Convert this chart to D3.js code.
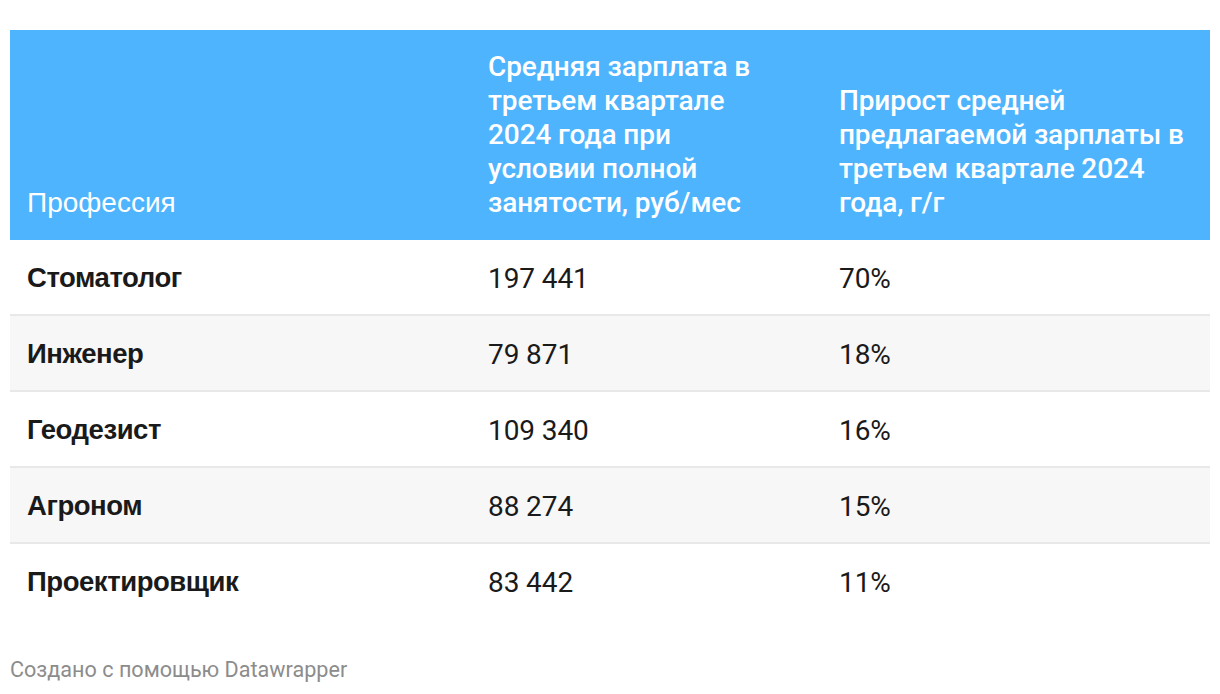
<!DOCTYPE html>
<html><head><meta charset="utf-8">
<script src="https://cdn.jsdelivr.net/npm/d3@7"></script>
<style>
html,body{margin:0;padding:0;background:#fff;}
svg{display:block;}
</style></head>
<body>
<svg id="chart" width="1220" height="694"></svg>
<script>
const professions = ["Стоматолог","Инженер","Геодезист","Агроном","Проектировщик"];
const salaries = [197441, 79871, 109340, 88274, 83442];
const growth = [70, 18, 16, 15, 11];
const headerCol1 = ["Профессия"];
const headerCol2 = ["Средняя зарплата в","третьем квартале","2024 года при","условии полной","занятости, руб/мес"];
const headerCol3 = ["Прирост средней","предлагаемой зарплаты в","третьем квартале 2024","года, г/г"];
const footer = "Создано с помощью Datawrapper";

const svg = d3.select("#chart");
const left = 10, right = 1210;
const headerTop = 30, headerBottom = 240, tableBottom = 620;

const cols = ["name","salary","growth"];
const xCol = d3.scaleOrdinal().domain(cols).range([27, 488, 839]);
const y = d3.scaleBand().domain(d3.range(professions.length)).range([headerBottom, tableBottom]);

svg.append("rect").attr("x", left).attr("y", headerTop).attr("width", right-left).attr("height", headerBottom-headerTop).attr("fill", "#4db4fd");

const lineH = 34;
const headerBase = 212;
const headers = [[ "name", headerCol1, "'Liberation Sans', Arial, sans-serif", 28, 400, "0px"],
                 [ "salary", headerCol2, "Roboto, sans-serif", 28, 500, "-0.1px"],
                 [ "growth", headerCol3, "Roboto, sans-serif", 28, 500, "-0.15px"]];
headers.forEach(([c, lines, font, fs, fw, ls]) => {
  const t = svg.append("text").attr("fill", "#fff").attr("font-family", font).attr("font-size", fs)
    .attr("font-weight", fw).attr("letter-spacing", ls);
  lines.forEach((l, i) => {
    t.append("tspan").attr("x", xCol(c)).attr("y", headerBase - (lines.length-1-i)*lineH).text(l);
  });
});

const rows = svg.append("g").selectAll("g").data(professions).join("g");
rows.append("rect").attr("x", left).attr("width", right-left)
  .attr("y", (d,i) => y(i)).attr("height", y.bandwidth())
  .attr("fill", (d,i) => i % 2 === 1 ? "#f7f7f7" : "#ffffff");
rows.filter((d,i) => i < professions.length-1).append("rect").attr("x", left).attr("width", right-left)
  .attr("y", (d,i) => y(i) + y.bandwidth() - 2).attr("height", 2).attr("fill", "#e8e8e8");

const fmt = v => d3.format(",")(v).replace(/,/g, " ");
rows.append("text").attr("x", xCol("name")).attr("y", (d,i) => y(i) + 47)
  .attr("font-family", "'Liberation Sans', Arial, sans-serif").attr("font-weight", "bold")
  .attr("font-size", 27.5).attr("letter-spacing", "-0.45px").attr("fill", "#1a1a1a").text(d => d);
rows.append("text").attr("x", xCol("salary")).attr("y", (d,i) => y(i) + 48)
  .attr("font-family", "Roboto, sans-serif").attr("font-size", 28).attr("letter-spacing", "-0.1px")
  .attr("fill", "#1a1a1a").text((d,i) => fmt(salaries[i]));
rows.append("text").attr("x", xCol("growth")).attr("y", (d,i) => y(i) + 48)
  .attr("font-family", "Roboto, sans-serif").attr("font-size", 28).attr("letter-spacing", "-0.1px")
  .attr("fill", "#1a1a1a").text((d,i) => growth[i] + "%");

svg.append("text").attr("x", 10).attr("y", 677).attr("font-family", "Roboto, sans-serif")
  .attr("font-size", 21.6).attr("fill", "#8c8c8c").text(footer);
</script>
</body></html>
